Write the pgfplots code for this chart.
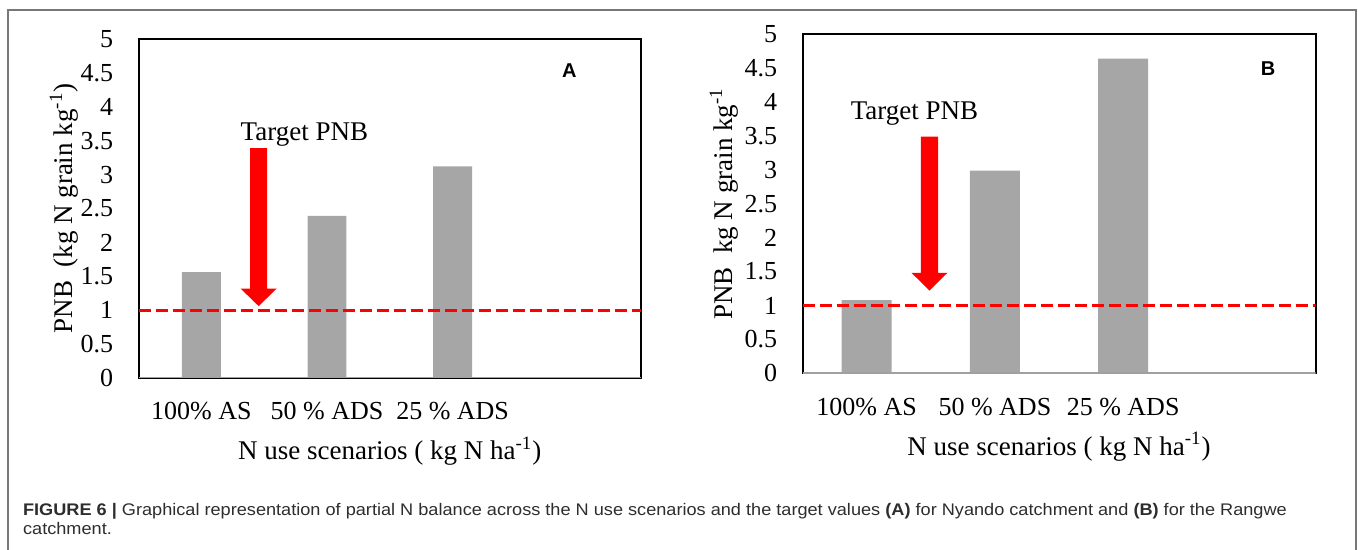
\documentclass[border=0pt]{standalone}
\usepackage{fontspec}
\setmainfont{Liberation Serif}
\newfontfamily\sansf{Liberation Sans}
\usepackage{pgfplots}
\pgfplotsset{compat=1.18}
\definecolor{bargray}{RGB}{166,166,166}
\definecolor{axgray}{RGB}{160,160,160}
\definecolor{framegray}{RGB}{120,120,120}
\definecolor{captxt}{RGB}{45,45,45}

\pgfplotsset{
  pnbaxis/.style={
    scale only axis, anchor=south west,
    height=169.5pt,
    xmin=-0.5, xmax=3.5, ymin=0, ymax=5,
    xtick={0,1,2},
    xticklabels={100\% AS, 50 \% ADS, 25 \% ADS},
    ytick={0,0.5,1,1.5,2,2.5,3,3.5,4,4.5,5},
    major tick length=0pt,
    tick style={draw=none},
    axis line style={black, line width=1pt},
    tick label style={font=\fontsize{13}{15}\selectfont},
    /pgf/number format/assume math mode=true,
    xticklabel style={anchor=base, yshift=-21pt},
    label style={font=\fontsize{13.5}{15}\selectfont},
    xlabel style={at={([yshift=-41pt]axis description cs:0.5,0)}, anchor=base},
    yticklabel style={anchor=east, inner sep=0pt},
  }
}

\begin{document}
\begin{tikzpicture}
\useasboundingbox (0,0) rectangle (679pt,275pt);
% outer frame
\draw[framegray, line width=1pt] (4pt,0pt) -- (4pt,270pt) -- (678pt,270pt) -- (678pt,0pt);

% ---------------- Panel A ----------------
\begin{axis}[pnbaxis, at={(69.3pt,86pt)}, width=251.2pt,
  yticklabel style={xshift=-12.5pt},
  ylabel style={at={([xshift=-33pt]axis description cs:0,0.5)}, anchor=base},
  ylabel={PNB\ \ (kg N grain kg\textsuperscript{-1})},
  xlabel={N use scenarios ( kg N ha\textsuperscript{-1})}]
\addplot[ybar, bar width=0.31, fill=bargray, draw=none] coordinates {(0,1.56) (1,2.39) (2,3.12)};
\draw[axgray, line width=1.2pt] (axis cs:-0.5,0) -- (axis cs:3.5,0);
\addplot[red, line width=1.5pt, dash pattern=on 6pt off 2.5pt] coordinates {(-0.5,1) (3.5,1)};
\fill[red] (axis cs:0.388,3.39) -- (axis cs:0.524,3.39) -- (axis cs:0.524,1.32) -- (axis cs:0.600,1.32)
  -- (axis cs:0.456,1.06) -- (axis cs:0.312,1.32) -- (axis cs:0.388,1.32) -- cycle;
\node[anchor=base, font=\fontsize{13.5}{15}\selectfont] at (axis cs:0.82,3.51) {Target PNB};
\node[font=\sansf\bfseries\fontsize{10}{12}\selectfont] at (axis cs:2.93,4.54) {A};
\end{axis}

% ---------------- Panel B ----------------
\begin{axis}[pnbaxis, at={(401.25pt,88.35pt)}, width=256.5pt,
  yticklabel style={xshift=-12.5pt},
  ylabel style={at={([xshift=-35pt]axis description cs:0,0.5)}, anchor=base},
  ylabel={PNB\ \ kg N grain kg\textsuperscript{-1}},
  xlabel={N use scenarios ( kg N ha\textsuperscript{-1})}]
\addplot[ybar, bar width=0.39, fill=bargray, draw=none] coordinates {(0,1.08) (1,2.99) (2,4.64)};
\draw[axgray, line width=1.2pt] (axis cs:-0.5,0) -- (axis cs:3.5,0);
\addplot[red, line width=1.5pt, dash pattern=on 6pt off 2.5pt] coordinates {(-0.5,1) (3.5,1)};
\fill[red] (axis cs:0.423,3.49) -- (axis cs:0.557,3.49) -- (axis cs:0.557,1.48) -- (axis cs:0.629,1.48)
  -- (axis cs:0.49,1.22) -- (axis cs:0.351,1.48) -- (axis cs:0.423,1.48) -- cycle;
\node[anchor=base, font=\fontsize{13.5}{15}\selectfont] at (axis cs:0.373,3.74) {Target PNB};
\node[font=\sansf\bfseries\fontsize{10}{12}\selectfont] at (axis cs:3.13,4.50) {B};
\end{axis}

% caption
\node[anchor=base west, inner sep=0pt, text=captxt, font=\sansf\fontsize{8.4}{10}\selectfont] at (11.35pt,17pt)
  {\scalebox{1.08}[1]{\textbf{FIGURE 6 |} Graphical representation of partial N balance across the N use scenarios and the target values \textbf{(A)} for Nyando catchment and \textbf{(B)} for the Rangwe}};
\node[anchor=base west, inner sep=0pt, text=captxt, font=\sansf\fontsize{8.4}{10}\selectfont] at (11.35pt,7.5pt)
  {\scalebox{1.08}[1]{catchment.}};
\end{tikzpicture}
\end{document}
